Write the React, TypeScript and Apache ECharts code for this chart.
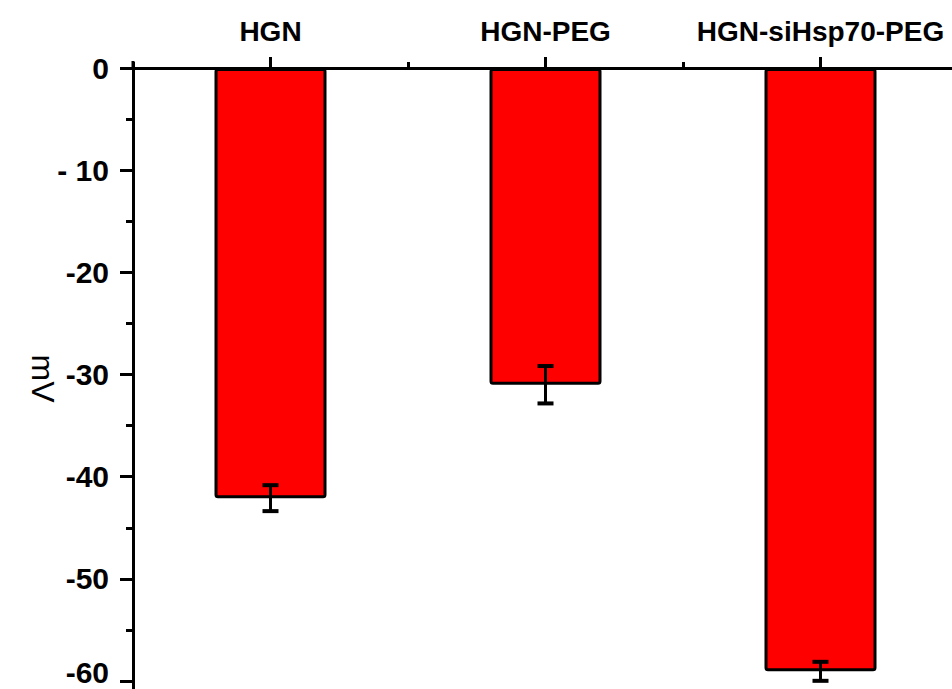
import React, { useEffect, useRef } from "react";
import * as echarts from "echarts";

const categories = ["HGN", "HGN-PEG", "HGN-siHsp70-PEG"];
const values = [-42.1, -31.0, -59.05];
const errors = [1.27, 1.83, 0.93];
const yTicks = [0, -10, -20, -30, -40, -50, -60];
const yMinorTicks = [-5, -15, -25, -35, -45, -55];
const yName = "mV";

export default function App() {
  const ref = useRef<HTMLDivElement>(null);
  useEffect(() => {
    if (!ref.current) return;
    const chart = echarts.init(ref.current, null, { renderer: "svg" });
    const font = "'Liberation Sans', Arial, sans-serif";
    const labelStyle = { color: "#000", fontFamily: font, fontWeight: "bold", fontSize: 30 };
    chart.setOption({
      animation: false,
      backgroundColor: "#ffffff",
      grid: { left: 133, top: 68, width: 825, height: 621, containLabel: false, outerBoundsMode: "none" },
      graphic: [
        {
          type: "line",
          shape: { x1: 133, y1: 61, x2: 133, y2: 68 },
          style: { stroke: "#000", lineWidth: 3 },
        },
      ],
      xAxis: [
        {
          type: "category",
          data: categories,
          position: "top",
          axisLine: { show: true, lineStyle: { color: "#000", width: 3 } },
          axisTick: { show: true, alignWithLabel: true, inside: false, length: 11, lineStyle: { color: "#000", width: 3 } },
          axisLabel: { interval: 0, color: "#000", fontFamily: font, fontWeight: "bold", fontSize: 28, margin: 23 },
          splitLine: { show: false },
        },
        {
          type: "category",
          data: categories,
          position: "top",
          axisLine: { show: false },
          axisTick: { show: true, alignWithLabel: false, interval: 0, length: 6, lineStyle: { color: "#000", width: 3 } },
          axisLabel: { show: false },
          splitLine: { show: false },
        },
      ],
      yAxis: [
        {
          type: "value",
          min: -60.78,
          max: 0,
          position: "left",
          name: yName,
          nameLocation: "middle",
          nameRotate: -90,
          nameGap: 74,
          nameMoveOverlap: false,
          nameTextStyle: { color: "#000", fontFamily: font, fontSize: 32 },
          axisLine: { show: true, lineStyle: { color: "#000", width: 3 } },
          axisTick: { show: true, length: 13, customValues: yTicks, lineStyle: { color: "#000", width: 3 } },
          axisLabel: {
            ...labelStyle,
            margin: 24,
            customValues: yTicks,
            formatter: (v: number) => {
              if (v === -10) return "{n|- 10}";
              if (v === -60) return "{b|-60}";
              return "{n|" + String(v) + "}";
            },
            rich: {
              n: { ...labelStyle },
              b: { ...labelStyle, padding: [0, 0, 18, 0] },
            },
          },
          splitLine: { show: false },
        },
        {
          type: "value",
          min: -60.78,
          max: 0,
          position: "left",
          axisLine: { show: false },
          axisTick: { show: true, length: 7, customValues: yMinorTicks, lineStyle: { color: "#000", width: 3 } },
          axisLabel: { show: false },
          splitLine: { show: false },
        },
      ],
      series: [
        {
          type: "bar",
          data: values,
          barWidth: 112,
          itemStyle: { color: "#ff0000", borderColor: "#000", borderWidth: 3, borderRadius: 2 },
          z: 2,
        },
        {
          type: "custom",
          z: 3,
          data: categories.map((_, i) => [i, values[i], errors[i]]),
          renderItem: (params: any, api: any) => {
            const x = api.value(0);
            const y = api.value(1);
            const e = api.value(2);
            const hi = api.coord([x, y + e]);
            const lo = api.coord([x, y - e]);
            const cw = 8;
            const st = { stroke: "#000", lineWidth: 3 };
            const cs = { stroke: "#000", lineWidth: 4 };
            return {
              type: "group",
              children: [
                { type: "line", shape: { x1: hi[0], y1: hi[1], x2: lo[0], y2: lo[1] }, style: st },
                { type: "line", shape: { x1: hi[0] - cw, y1: hi[1], x2: hi[0] + cw, y2: hi[1] }, style: cs },
                { type: "line", shape: { x1: lo[0] - cw, y1: lo[1], x2: lo[0] + cw, y2: lo[1] }, style: cs },
              ],
            };
          },
        },
      ],
    });
    return () => chart.dispose();
  }, []);
  return (
    <div
      ref={ref}
      style={{ position: "fixed", left: 0, top: 0, width: 960, height: 689, background: "#fff" }}
    />
  );
}
